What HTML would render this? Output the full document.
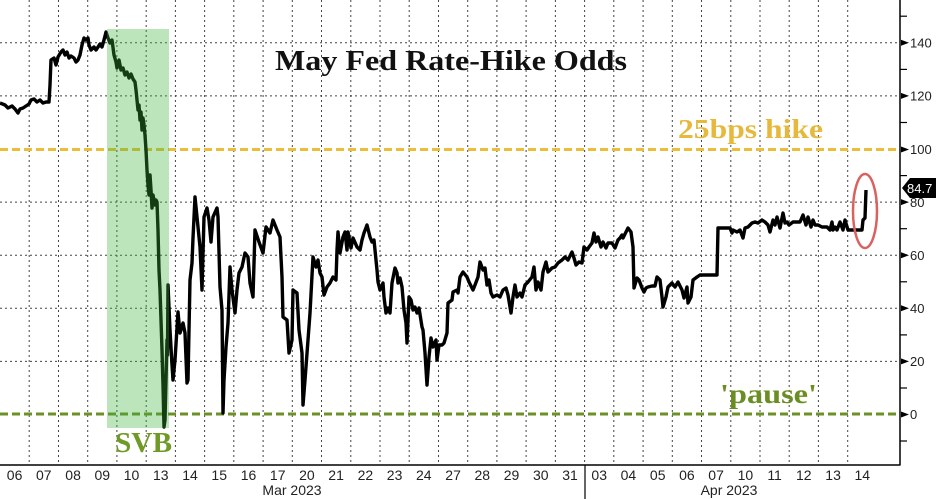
<!DOCTYPE html>
<html><head><meta charset="utf-8"><style>
html,body{margin:0;padding:0;background:#fff;}
svg{display:block;}
</style></head><body>
<svg width="936" height="499" viewBox="0 0 936 499" xmlns="http://www.w3.org/2000/svg">
<rect width="936" height="499" fill="#fff"/>
<!-- vertical dotted gridlines -->
<g stroke="#444" stroke-width="1" stroke-dasharray="2,3">
<line x1="29.2" y1="0" x2="29.2" y2="465"/><line x1="58.5" y1="0" x2="58.5" y2="465"/><line x1="87.7" y1="0" x2="87.7" y2="465"/><line x1="116.9" y1="0" x2="116.9" y2="465"/><line x1="146.2" y1="0" x2="146.2" y2="465"/><line x1="175.4" y1="0" x2="175.4" y2="465"/><line x1="204.6" y1="0" x2="204.6" y2="465"/><line x1="233.8" y1="0" x2="233.8" y2="465"/><line x1="263.1" y1="0" x2="263.1" y2="465"/><line x1="292.3" y1="0" x2="292.3" y2="465"/><line x1="321.5" y1="0" x2="321.5" y2="465"/><line x1="350.8" y1="0" x2="350.8" y2="465"/><line x1="380" y1="0" x2="380" y2="465"/><line x1="409.2" y1="0" x2="409.2" y2="465"/><line x1="438.5" y1="0" x2="438.5" y2="465"/><line x1="467.7" y1="0" x2="467.7" y2="465"/><line x1="496.9" y1="0" x2="496.9" y2="465"/><line x1="526.1" y1="0" x2="526.1" y2="465"/><line x1="555.4" y1="0" x2="555.4" y2="465"/><line x1="584.6" y1="0" x2="584.6" y2="465"/><line x1="613.8" y1="0" x2="613.8" y2="465"/><line x1="643.1" y1="0" x2="643.1" y2="465"/><line x1="672.3" y1="0" x2="672.3" y2="465"/><line x1="701.5" y1="0" x2="701.5" y2="465"/><line x1="730.8" y1="0" x2="730.8" y2="465"/><line x1="760" y1="0" x2="760" y2="465"/><line x1="789.2" y1="0" x2="789.2" y2="465"/><line x1="818.4" y1="0" x2="818.4" y2="465"/><line x1="847.7" y1="0" x2="847.7" y2="465"/>
</g>
<!-- horizontal dotted gridlines -->
<g stroke="#444" stroke-width="1" stroke-dasharray="2,3">
<line x1="0" y1="42.8" x2="900" y2="42.8"/><line x1="0" y1="95.9" x2="900" y2="95.9"/><line x1="0" y1="202.1" x2="900" y2="202.1"/><line x1="0" y1="255.2" x2="900" y2="255.2"/><line x1="0" y1="308.3" x2="900" y2="308.3"/><line x1="0" y1="361.4" x2="900" y2="361.4"/>
</g>
<!-- reference dashed lines -->
<line x1="0" y1="149.5" x2="900" y2="149.5" stroke="#E8BE3A" stroke-width="3" stroke-dasharray="8,4"/>
<line x1="0" y1="414" x2="900" y2="414" stroke="#6B9128" stroke-width="3" stroke-dasharray="8,4"/>
<!-- series -->
<polyline fill="none" stroke="#000" stroke-width="3.4" stroke-linejoin="round" points="
0,103 5,105 8,108 12,106 15,109 18,113 20,109 23,108 26,106 29,104 31,100 34,99 37,102 40,100 43,103 46,102 49,102 50,85 51,60 54,58 56,65 58,57 61,52 63,50 65,55 67,52 69,58 71,56 74,58 76,62 78,60 80,55 82,45 84,38 86,40 88,38 89,45 91,50 94,47 96,50 98,47 100,44 102,47 104,40 106,32 108,38 110,43 112,40 114,55 116,62 117,68 119,60 121,70 123,68 125,75 127,72 129,78 131,74 133,79 135,82 136,90 137,100 138,110 139,105 140,120 141,112 142,130 143,118 144,125 145,135 146,150 147,170 148,185 149,195 150,175 151,190 152,208 153,195 155,205 156,200 157,202 158,230 159,270 160,290 161,320 162,350 163,385 164,427 165,420 166,380 167,340 167.5,355 168,285 170,330 172,365 173,380 175,360 178,312 180,333 183,323 185,333 187,383 188,380 190,280 192,263 193,238 195,197 197,217 200,247 202,290 204,217 207,208 209,220 211,242 213,217 217,208 218,217 220,287 222,310 223,413 224,380 226,347 228,323 230,267 232,290 235,313 237,290 239,273 242,267 245,253 248,257 250,283 253,297 255,230 259,242 263,253 266,227 270,233 273,220 277,230 280,237 282,277 283,317 287,320 289,353 292,340 293,290 297,293 299,330 302,353 303,405 305,380 308,340 310,313 313,257 316,267 318,260 320,273 322,277 324,295 327,287 330,283 333,277 336,280 337,250 338,232 340,253 343,237 345,232 347,250 348,232 351,248 353,238 357,247 360,250 362,240 364,233 367,225 370,237 372,242 374,240 377,270 378,282 380,290 383,283 384,297 386,313 388,308 390,313 392,283 395,268 397,273 398,283 400,278 402,287 404,310 406,323 407,343 409,297 411,300 413,310 415,307 417,313 419,308 422,327 423,330 425,353 427,385 429,357 431,338 433,347 436,340 437,360 439,345 442,345 444,343 447,333 448,303 452,300 453,292 457,290 458,293 460,277 463,272 467,277 469,282 473,290 475,285 478,277 480,262 483,270 485,268 487,285 489,280 491,293 493,297 497,295 500,297 503,290 506,288 508,295 511,313 513,297 515,285 517,297 520,293 522,297 525,285 528,282 532,277 534,267 536,290 538,282 541,290 543,272 546,262 548,272 552,268 555,267 558,263 562,260 565,257 568,260 572,252 574,258 576,265 579,262 582,263 584,247 587,250 589,247 592,243 594,233 596,242 598,237 601,247 603,242 606,248 608,243 612,243 615,248 618,240 620,238 622,235 623,238 626,232 628,228 631,232 633,247 634,288 637,278 639,280 642,288 644,292 646,288 648,287 652,286 655,286 657,277 660,280 662,297 663,307 666,297 668,287 672,283 675,287 678,282 682,290 684,298 687,287 688,303 691,297 693,280 697,277 700,275 707,275 715,275 717,275 718,228 722,228 730,228 732,233 733,230 737,232 740,230 743,238 745,228 748,227 752,223 755,222 758,223 762,220 765,222 768,225 770,232 773,220 775,225 777,217 780,228 783,213 785,223 787,222 789,225 793,222 797,222 800,222 803,215 806,225 808,217 811,227 813,220 815,225 818,225 822,227 827,227 830,230 832,222 833,230 835,227 837,230 840,222 843,230 845,220 848,230 855,230 862,230 863,220 865,218 866,190"/>
<!-- SVB shaded box (on top, translucent) -->
<rect x="107" y="29" width="62" height="399" fill="rgb(60,178,60)" fill-opacity="0.34"/>
<!-- red ellipse -->
<ellipse cx="865" cy="211" rx="12" ry="37" fill="none" stroke="#D9625F" stroke-width="2.5"/>
<!-- axes -->
<line x1="0" y1="465" x2="900.5" y2="465" stroke="#000" stroke-width="1.5"/>
<line x1="900" y1="0" x2="900" y2="465" stroke="#000" stroke-width="1.5"/>
<line x1="585" y1="465" x2="585" y2="499" stroke="#000" stroke-width="1.2"/>
<!-- minor ticks -->
<g stroke="#000" stroke-width="1.2">
<line x1="900" y1="16.2" x2="907" y2="16.2"/><line x1="900" y1="69.4" x2="907" y2="69.4"/><line x1="900" y1="122.5" x2="907" y2="122.5"/><line x1="900" y1="175.6" x2="907" y2="175.6"/><line x1="900" y1="228.7" x2="907" y2="228.7"/><line x1="900" y1="281.8" x2="907" y2="281.8"/><line x1="900" y1="334.9" x2="907" y2="334.9"/><line x1="900" y1="388" x2="907" y2="388"/><line x1="900" y1="441" x2="907" y2="441"/>
</g>
<!-- major tick triangles -->
<g fill="#000">
<polygon points="901,39.8 909,42.8 901,45.8"/><polygon points="901,92.9 909,95.9 901,98.9"/><polygon points="901,146.5 909,149.5 901,152.5"/><polygon points="901,199.1 909,202.1 901,205.1"/><polygon points="901,252.2 909,255.2 901,258.2"/><polygon points="901,305.3 909,308.3 901,311.3"/><polygon points="901,358.4 909,361.4 901,364.4"/><polygon points="901,411.5 909,414.5 901,417.5"/>
</g>
<g font-family="'Liberation Sans', sans-serif" font-size="13" fill="#222">
<text x="910" y="47.5">140</text><text x="910" y="100.6">120</text><text x="910" y="154">100</text><text x="910" y="206.8">80</text><text x="910" y="259.9">60</text><text x="910" y="313">40</text><text x="910" y="366.1">20</text><text x="910" y="419.2">0</text>
</g>
<!-- last value tag -->
<polygon points="902,188 910,178 936,178 936,198 910,198" fill="#000"/>
<text x="907" y="193" font-family="'Liberation Sans', sans-serif" font-size="13" fill="#fff">84.7</text>
<!-- x-axis labels -->
<g font-family="'Liberation Sans', sans-serif" font-size="14" fill="#222" text-anchor="middle">
<text x="14.6" y="480">06</text><text x="43.8" y="480">07</text><text x="73.1" y="480">08</text><text x="102.3" y="480">09</text><text x="131.5" y="480">10</text><text x="160.8" y="480">13</text><text x="190" y="480">14</text><text x="219.2" y="480">15</text><text x="248.5" y="480">16</text><text x="277.7" y="480">17</text><text x="306.9" y="480">20</text><text x="336.1" y="480">21</text><text x="365.4" y="480">22</text><text x="394.6" y="480">23</text><text x="423.8" y="480">24</text><text x="453.1" y="480">27</text><text x="482.3" y="480">28</text><text x="511.5" y="480">29</text><text x="540.8" y="480">30</text><text x="570" y="480">31</text><text x="599.2" y="480">03</text><text x="628.4" y="480">04</text><text x="657.7" y="480">05</text><text x="686.9" y="480">06</text><text x="716.1" y="480">07</text><text x="745.4" y="480">10</text><text x="774.6" y="480">11</text><text x="803.8" y="480">12</text><text x="833.1" y="480">13</text><text x="862.3" y="480">14</text>
<text x="292" y="495">Mar 2023</text><text x="729" y="495">Apr 2023</text>
</g>
<!-- annotations -->
<text x="275" y="70" font-family="'Liberation Serif', serif" font-weight="bold" font-size="29" fill="#111" textLength="352" lengthAdjust="spacingAndGlyphs">May Fed Rate-Hike Odds</text>
<text x="678" y="138" font-family="'Liberation Serif', serif" font-weight="bold" font-size="27" fill="#E6B93C" textLength="145" lengthAdjust="spacingAndGlyphs">25bps hike</text>
<text x="720" y="403" font-family="'Liberation Serif', serif" font-weight="bold" font-size="27" fill="#6B8E23" textLength="97" lengthAdjust="spacingAndGlyphs">'pause'</text>
<text x="115" y="452" font-family="'Liberation Serif', serif" font-weight="bold" font-size="29" fill="#6F9A26" textLength="57" lengthAdjust="spacingAndGlyphs">SVB</text>
</svg>
</body></html>
